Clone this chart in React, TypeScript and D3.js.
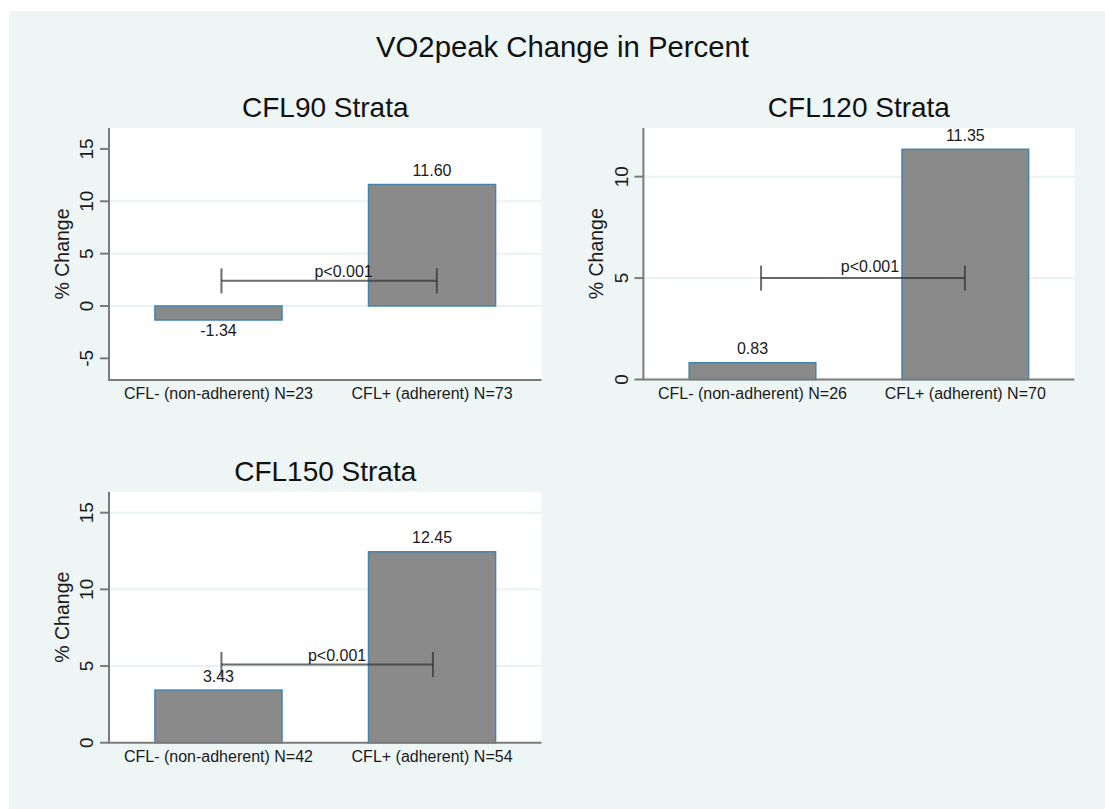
import React from "react";
import * as d3 from "d3";

// Chart content
const chartTitle = "VO2peak Change in Percent";
const yAxisTitle = "% Change";
const panelTitles = ["CFL90 Strata", "CFL120 Strata", "CFL150 Strata"];
const groupLabels = [
  ["CFL- (non-adherent) N=23", "CFL+ (adherent) N=73"],
  ["CFL- (non-adherent) N=26", "CFL+ (adherent) N=70"],
  ["CFL- (non-adherent) N=42", "CFL+ (adherent) N=54"],
];
const percentChange = [
  [-1.34, 11.6],
  [0.83, 11.35],
  [3.43, 12.45],
];
const yDomains = [
  [-7.07, 17.0],
  [0, 12.4],
  [0, 16.37],
];
const yTicks = [
  [-5, 0, 5, 10, 15],
  [0, 5, 10],
  [0, 5, 10, 15],
];
const gridValues = [
  [0, 5, 10],
  [5, 10],
  [5, 10, 15],
];
// comparison bracket: y value, and x ends on a 0-100 scale across the plot
const bracketY = [2.4, 5.0, 5.1];
const bracketX = [
  [26, 75.8],
  [27.3, 74.6],
  [26, 74.9],
];
const pValueText = "p<0.001";
const pTextPos = [
  [47.5, 2.75],
  [45.8, 5.3],
  [46, 5.3],
];

// Plot frames for the 2x2 grid (last cell empty)
const frames = [
  { x0: 109, x1: 541.5, y0: 128, y1: 380 },
  { x0: 643.4, x1: 1074.4, y0: 128, y1: 379.5 },
  { x0: 109, x1: 541.5, y0: 491.7, y1: 742.7 },
];

const FONT = "'Liberation Sans', Arial, Helvetica, sans-serif";
const BG = "#edf5f5";
const AXIS = "#7b7b7b";
const GRID = "#eaf2f3";
const BAR_FILL = "#8a8a8a";
const BAR_STROKE = "#4484ad";

const fmt = (v: number) => v.toFixed(2);

function Panel({ i }: { i: number }) {
  const f = frames[i];
  const y = d3.scaleLinear().domain(yDomains[i]).range([f.y1, f.y0]);
  const x = d3
    .scaleBand<string>()
    .domain(groupLabels[i])
    .range([f.x0, f.x1])
    .paddingInner(0.405)
    .paddingOuter(0.215);
  const xu = d3.scaleLinear().domain([0, 100]).range([f.x0, f.x1]);
  const bw = x.bandwidth();
  const [bx0, bx1] = bracketX[i];
  const by = y(bracketY[i]);
  const cap = 12.5;

  return (
    <g>
      <rect x={f.x0} y={f.y0} width={f.x1 - f.x0} height={f.y1 - f.y0} fill="#ffffff" />
      {gridValues[i].map((g) => (
        <line key={g} x1={f.x0} x2={f.x1} y1={y(g)} y2={y(g)} stroke={GRID} strokeWidth={2} />
      ))}
      {/* bars */}
      {groupLabels[i].map((c, k) => {
        const v = percentChange[i][k];
        const top = y(Math.max(0, v));
        const bot = y(Math.min(0, v));
        const cx = (x(c) as number) + bw / 2;
        return (
          <g key={c}>
            <rect
              x={x(c)}
              y={top}
              width={bw}
              height={bot - top}
              fill={BAR_FILL}
              stroke={BAR_STROKE}
              strokeWidth={1.5}
            />
            <text
              x={cx}
              y={v >= 0 ? top - 8.5 : bot + 16}
              textAnchor="middle"
              fontSize={16}
              fill="#1a1a1a"
            >
              {fmt(v)}
            </text>
          </g>
        );
      })}
      {/* comparison bracket */}
      <g stroke="#333" strokeOpacity={0.72} strokeWidth={2}>
        <line x1={xu(bx0)} x2={xu(bx1)} y1={by} y2={by} />
        <line x1={xu(bx0)} x2={xu(bx0)} y1={by - cap} y2={by + cap} />
        <line x1={xu(bx1)} x2={xu(bx1)} y1={by - cap} y2={by + cap} />
      </g>
      <text x={xu(pTextPos[i][0])} y={y(pTextPos[i][1])} fontSize={16} fill="#1a1a1a">
        {pValueText}
      </text>
      {/* axes */}
      <line x1={f.x0} x2={f.x0} y1={f.y0} y2={f.y1} stroke={AXIS} strokeWidth={2} />
      <line x1={f.x0 - 1} x2={f.x1} y1={f.y1} y2={f.y1} stroke={AXIS} strokeWidth={2} />
      {yTicks[i].map((t) => (
        <g key={t}>
          <line x1={f.x0 - 9} x2={f.x0} y1={y(t)} y2={y(t)} stroke={AXIS} strokeWidth={2} />
          <text
            transform={`translate(${f.x0 - 15.7},${y(t)}) rotate(-90)`}
            textAnchor="middle"
            fontSize={19}
            fill="#1a1a1a"
          >
            {t}
          </text>
        </g>
      ))}
      <text
        transform={`translate(${f.x0 - 40},${(f.y0 + f.y1) / 2}) rotate(-90)`}
        textAnchor="middle"
        fontSize={19.5}
        fill="#1a1a1a"
      >
        {yAxisTitle}
      </text>
      {groupLabels[i].map((c) => (
        <text
          key={c}
          x={(x(c) as number) + bw / 2}
          y={f.y1 + 19}
          textAnchor="middle"
          fontSize={16}
          fill="#1a1a1a"
        >
          {c}
        </text>
      ))}
      <text x={(f.x0 + f.x1) / 2} y={f.y0 - 11} textAnchor="middle" fontSize={28} fill="#111">
        {panelTitles[i]}
      </text>
    </g>
  );
}

export default function App() {
  return (
    <svg
      width={1105}
      height={809}
      style={{ position: "absolute", left: 0, top: 0, display: "block" }}
      fontFamily={FONT}
    >
      <rect x={0} y={0} width={1105} height={809} fill="#ffffff" />
      <rect x={9} y={11} width={1096} height={798} fill={BG} />
      <text x={562.5} y={57} textAnchor="middle" fontSize={29.3} fill="#111">
        {chartTitle}
      </text>
      {frames.map((_, i) => (
        <Panel key={i} i={i} />
      ))}
    </svg>
  );
}
